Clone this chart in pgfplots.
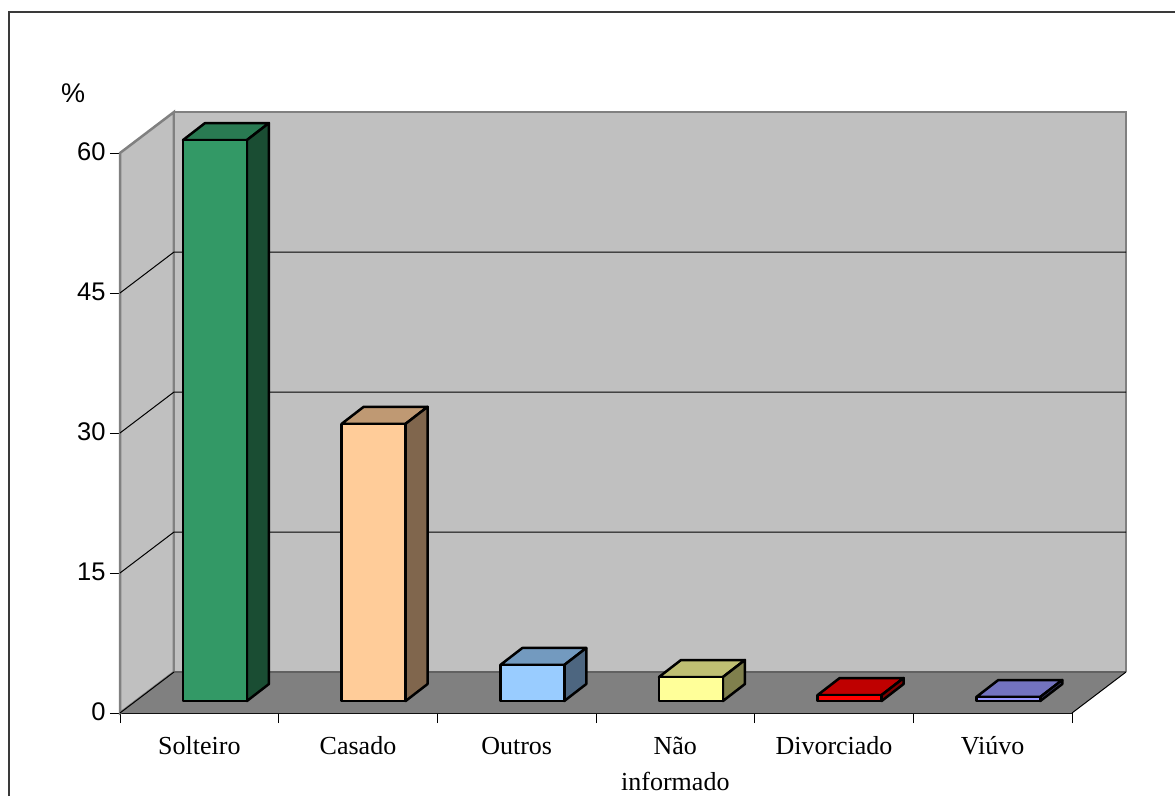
\documentclass[border=0pt]{standalone}
\usepackage{fontspec}
\setmainfont{Liberation Sans}
\newfontfamily\labelserif{Liberation Serif}
\usepackage{pgfplots}
\pgfplotsset{compat=1.18}

% Colours of the faces: front, top (shaded), side (darker)
\definecolor{greenF}{HTML}{339966}\definecolor{greenT}{HTML}{297A52}\definecolor{greenS}{HTML}{1A4D33}
\definecolor{peachF}{HTML}{FFCC99}\definecolor{peachT}{HTML}{BF9973}\definecolor{peachS}{HTML}{80664D}
\definecolor{blueF}{HTML}{99CCFF}\definecolor{blueT}{HTML}{739ABF}\definecolor{blueS}{HTML}{4D6680}
\definecolor{yelF}{HTML}{FFFF99}\definecolor{yelT}{HTML}{BFBF73}\definecolor{yelS}{HTML}{80804D}
\definecolor{redF}{HTML}{FF0000}\definecolor{redT}{HTML}{BF0000}\definecolor{redS}{HTML}{800000}
\definecolor{purF}{HTML}{9999FF}\definecolor{purT}{HTML}{7373BF}\definecolor{purS}{HTML}{4D4D80}
\definecolor{wall}{HTML}{C0C0C0}\definecolor{floorc}{HTML}{808080}\definecolor{frame}{HTML}{3A3A3A}

% Keeps every category label on the same baseline
\newcommand{\lab}{\rule{0pt}{20pt}}

% \column{category index}{value}{front}{top}{side}
\newcommand{\column}[5]{%
  \pgfmathsetmacro{\xa}{#1+0.397}%
  \pgfmathsetmacro{\xb}{#1+0.800}%
  \pgfmathsetmacro{\xc}{#1+0.800+0.1387}%
  \pgfmathsetmacro{\xd}{#1+0.397+0.1387}%
  \pgfmathsetmacro{\ya}{1.286}%
  \pgfmathsetmacro{\yb}{1.286+#2}%
  \pgfmathsetmacro{\yc}{1.286+#2+1.82}%
  \pgfmathsetmacro{\yd}{1.286+1.82}%
  \addplot[fill=#4,draw=black,line width=2.5pt,line join=round,forget plot] coordinates {(\xa,\yb) (\xb,\yb) (\xc,\yc) (\xd,\yc)} --cycle;
  \addplot[fill=#5,draw=black,line width=2.5pt,line join=round,forget plot] coordinates {(\xb,\ya) (\xc,\yd) (\xc,\yc) (\xb,\yb)} --cycle;
  \addplot[fill=#3,draw=black,line width=2.5pt,line join=round,forget plot] coordinates {(\xa,\ya) (\xb,\ya) (\xb,\yb) (\xa,\yb)} --cycle;
}

\begin{document}
\begin{tikzpicture}[x=1pt,y=1pt]
\useasboundingbox (0,0) rectangle (1175,796);
\fill[white] (0,0) rectangle (1175,796);
\draw[frame,line width=1.5pt] (9,0) -- (9,784) -- (1175,784);
\begin{axis}[
  at={(120pt,83pt)}, anchor=south west,
  scale only axis, width=952pt, height=560pt,
  xmin=0, xmax=6, ymin=0, ymax=60,
  clip=false,
  axis x line*=bottom, axis y line*=left,
  y axis line style={draw=none},
  x axis line style={-,black,line width=1.2pt},
  tick align=outside, major tick length=10pt,
  tick style={black,line width=1pt},
  xtick={0,1,2,3,4,5,6},
  x tick label as interval=true,
  xticklabels={\lab Solteiro,\lab Casado,\lab Outros,{\lab Não\\informado},\lab Divorciado,\lab Viúvo},
  xticklabel style={font=\labelserif\fontsize{26}{36}\selectfont,align=center,text width=150pt,yshift=-8pt},
  ytick={0,15,30,45,60},
  yticklabel style={font=\fontsize{25.5}{30}\selectfont,/pgf/number format/assume math mode=true,xshift=-1pt,yshift=1pt},
]
% Floor, side wall and back wall
\addplot[fill=floorc,draw=none,forget plot] coordinates {(0,0) (6,0) (6.3403,4.393) (0.3403,4.393)} --cycle;
\addplot[fill=wall,draw=floorc,line width=2.5pt,forget plot] coordinates {(0,0) (0,60) (0.3403,64.393) (0.3403,4.393)} --cycle;
\addplot[fill=wall,draw=none,forget plot] coordinates {(0.3403,4.393) (6.3403,4.393) (6.3403,64.393) (0.3403,64.393)} --cycle;
\addplot[draw=floorc,line width=2.5pt,forget plot] coordinates {(0.3403,4.393) (0.3403,64.393) (6.3403,64.393) (6.3403,4.393)};
\addplot[draw=black!62,line width=1.8pt,forget plot] coordinates {(0.3403,4.393) (6.3403,4.393)};
% Floor edges
\addplot[draw=black,line width=1pt,forget plot] coordinates {(0,0) (0.3403,4.393)};
\addplot[draw=black,line width=1pt,forget plot] coordinates {(6,0) (6.3403,4.393)};
% Grid lines across the side wall and the back wall
\addplot[draw=black,line width=1pt,forget plot] coordinates {(0,15) (0.3403,19.393) (6.3403,19.393)};
\addplot[draw=black,line width=1pt,forget plot] coordinates {(0,30) (0.3403,34.393) (6.3403,34.393)};
\addplot[draw=black,line width=1pt,forget plot] coordinates {(0,45) (0.3403,49.393) (6.3403,49.393)};
% Columns
\column{0}{60.1}{greenF}{greenT}{greenS}
\column{1}{29.7}{peachF}{peachT}{peachS}
\column{2}{3.86}{blueF}{blueT}{blueS}
\column{3}{2.57}{yelF}{yelT}{yelS}
\column{4}{0.64}{redF}{redT}{redS}
\column{5}{0.43}{purF}{purT}{purS}
% Unit of the vertical axis
\node[anchor=base,font=\fontsize{27}{30}\selectfont] at (axis cs:-0.296,65.46) {\%};
\end{axis}
\end{tikzpicture}
\end{document}
